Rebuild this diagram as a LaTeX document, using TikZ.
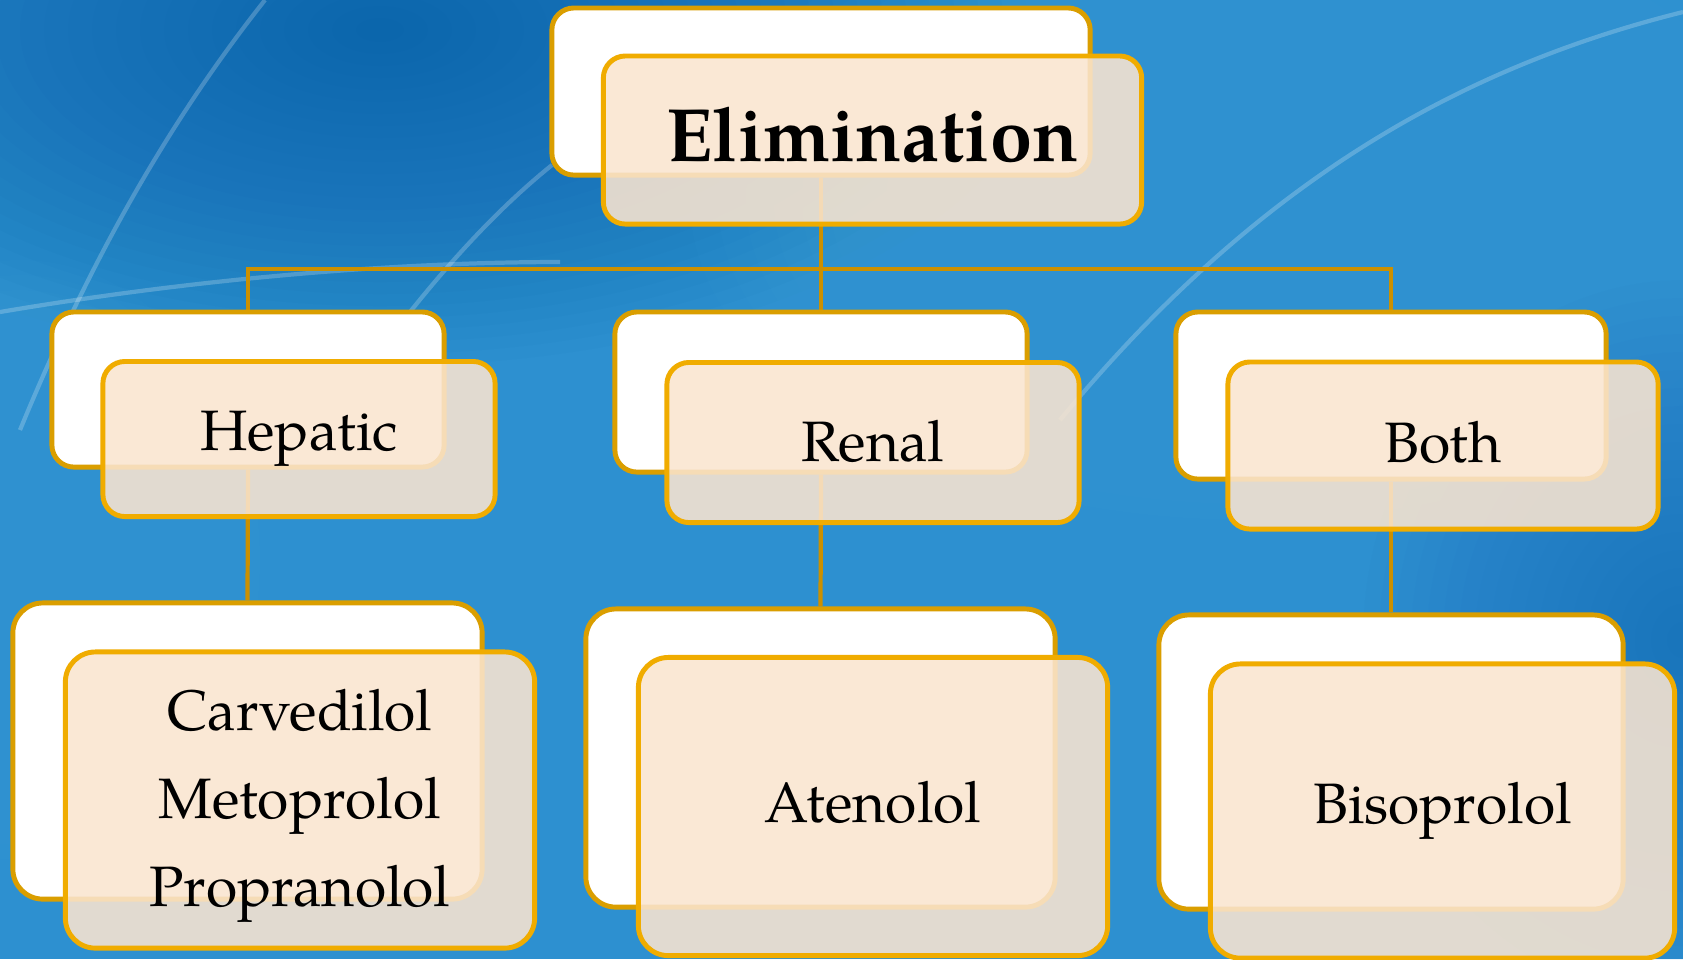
\documentclass[tikz,border=0pt]{standalone}
\usepackage{fontspec}
\setmainfont{texgyrepagella}[Extension=.otf, UprightFont=*-regular, BoldFont=*-bold]
\usepackage{tikz}
\usetikzlibrary{backgrounds}

\definecolor{bgbase}{RGB}{45,144,208}
\definecolor{bgdark}{RGB}{6,88,165}
\definecolor{bglight}{RGB}{72,170,224}
\definecolor{backline}{RGB}{218,158,0}
\definecolor{frontline}{RGB}{240,172,0}
\definecolor{connline}{RGB}{204,144,0}
\definecolor{peach}{RGB}{250,229,208}

\begin{document}
\begin{tikzpicture}[
    x=0.01cm, y=-0.01cm,
    backbox/.style={draw=backline, line width=1.4pt, fill=white, rounded corners=0.22cm, inner sep=0pt},
    frontbox/.style={draw=frontline, line width=1.4pt, fill=peach, fill opacity=0.88, text opacity=1,
                     rounded corners=0.22cm, inner sep=0pt, align=center,
                     font=\fontsize{16.2}{25}\selectfont},
    big/.style={rounded corners=0.3cm},
    conn/.style={draw=connline, line width=1.2pt},
    arc/.style={white, opacity=0.22, line width=1.2pt},
  ]
    \useasboundingbox (0,0) rectangle (1683,959);

    % back cards
    \node[backbox, minimum width=5.38cm, minimum height=1.67cm] (elimB) at (821,91.5) {};
    \node[backbox, minimum width=3.92cm, minimum height=1.55cm] (hepB)  at (248,389.5) {};
    \node[backbox, minimum width=4.12cm, minimum height=1.60cm] (renB)  at (821,392) {};
    \node[backbox, minimum width=4.30cm, minimum height=1.67cm] (bothB) at (1391,395.5) {};
    \node[backbox, big, minimum width=4.69cm, minimum height=2.96cm] (carvB) at (247.5,751) {};
    \node[backbox, big, minimum width=4.69cm, minimum height=2.98cm] (atenB) at (820.5,758) {};
    \node[backbox, big, minimum width=4.64cm, minimum height=2.94cm] (bisoB) at (1391,762) {};

    % front cards
    \node[frontbox, minimum width=5.38cm, minimum height=1.68cm,
          font=\fontsize{21.5}{26}\selectfont\bfseries] (elimF) at (872.5,140) {\raisebox{3.5pt}{Elimination}};
    \node[frontbox, minimum width=3.92cm, minimum height=1.55cm] (hepF)  at (299,439) {Hepatic};
    \node[frontbox, minimum width=4.12cm, minimum height=1.60cm] (renF)  at (873,442.5) {\raisebox{1.2pt}{Renal}};
    \node[frontbox, minimum width=4.30cm, minimum height=1.67cm] (bothF) at (1443,445.5) {\raisebox{2pt}{Both}};
    \node[frontbox, big, minimum width=4.69cm, minimum height=2.96cm] (carvF) at (300,800)
          {\rule{0pt}{15pt}Carvedilol\\Metoprolol\\Propranolol};
    \node[frontbox, big, minimum width=4.69cm, minimum height=2.98cm] (atenF) at (873,806.5) {\raisebox{2.5pt}{Atenolol}};
    \node[frontbox, big, minimum width=4.64cm, minimum height=2.94cm] (bisoF) at (1442.5,811) {\raisebox{-3.1pt}{Bisoprolol}};

    \coordinate (bus) at (821,269);

    \begin{pgfonlayer}{background}
      % backdrop
      \fill[bgbase] (0,0) rectangle (1683,959);
      \foreach \r in {1,...,28}
        \fill[bgdark, fill opacity=0.035] (380,30) ellipse ({\r*24} and {\r*12});
      \foreach \r in {1,...,20}
        \fill[bglight, fill opacity=0.04] (1250,200) ellipse ({\r*28} and {\r*16});
      \foreach \r in {1,...,20}
        \fill[bglight, fill opacity=0.04] (20,560) ellipse ({\r*12} and {\r*15});
      \foreach \r in {1,...,20}
        \fill[bgdark, fill opacity=0.025] (1683,640) ellipse ({\r*16} and {\r*18});
      \draw[arc] (20,430) .. controls (90,260) and (170,120) .. (265,0);
      \draw[arc] (0,312) .. controls (200,278) and (400,262) .. (560,262);
      \draw[arc] (330,420) .. controls (420,290) and (490,215) .. (552,165);
      \draw[arc] (1060,420) .. controls (1250,190) and (1450,70) .. (1683,12);

      % connectors
      \draw[conn] (elimB.south) -- (bus);
      \draw[conn] (hepB.north) |- (bus) -| (bothB.north);
      \draw[conn] (bus) -- (renB.north);
      \draw[conn] (hepB.south) -- (carvB.north);
      \draw[conn] (renB.south) -- (atenB.north);
      \draw[conn] (bothB.south) -- (bisoB.north);
    \end{pgfonlayer}
  \end{tikzpicture}
\end{document}
